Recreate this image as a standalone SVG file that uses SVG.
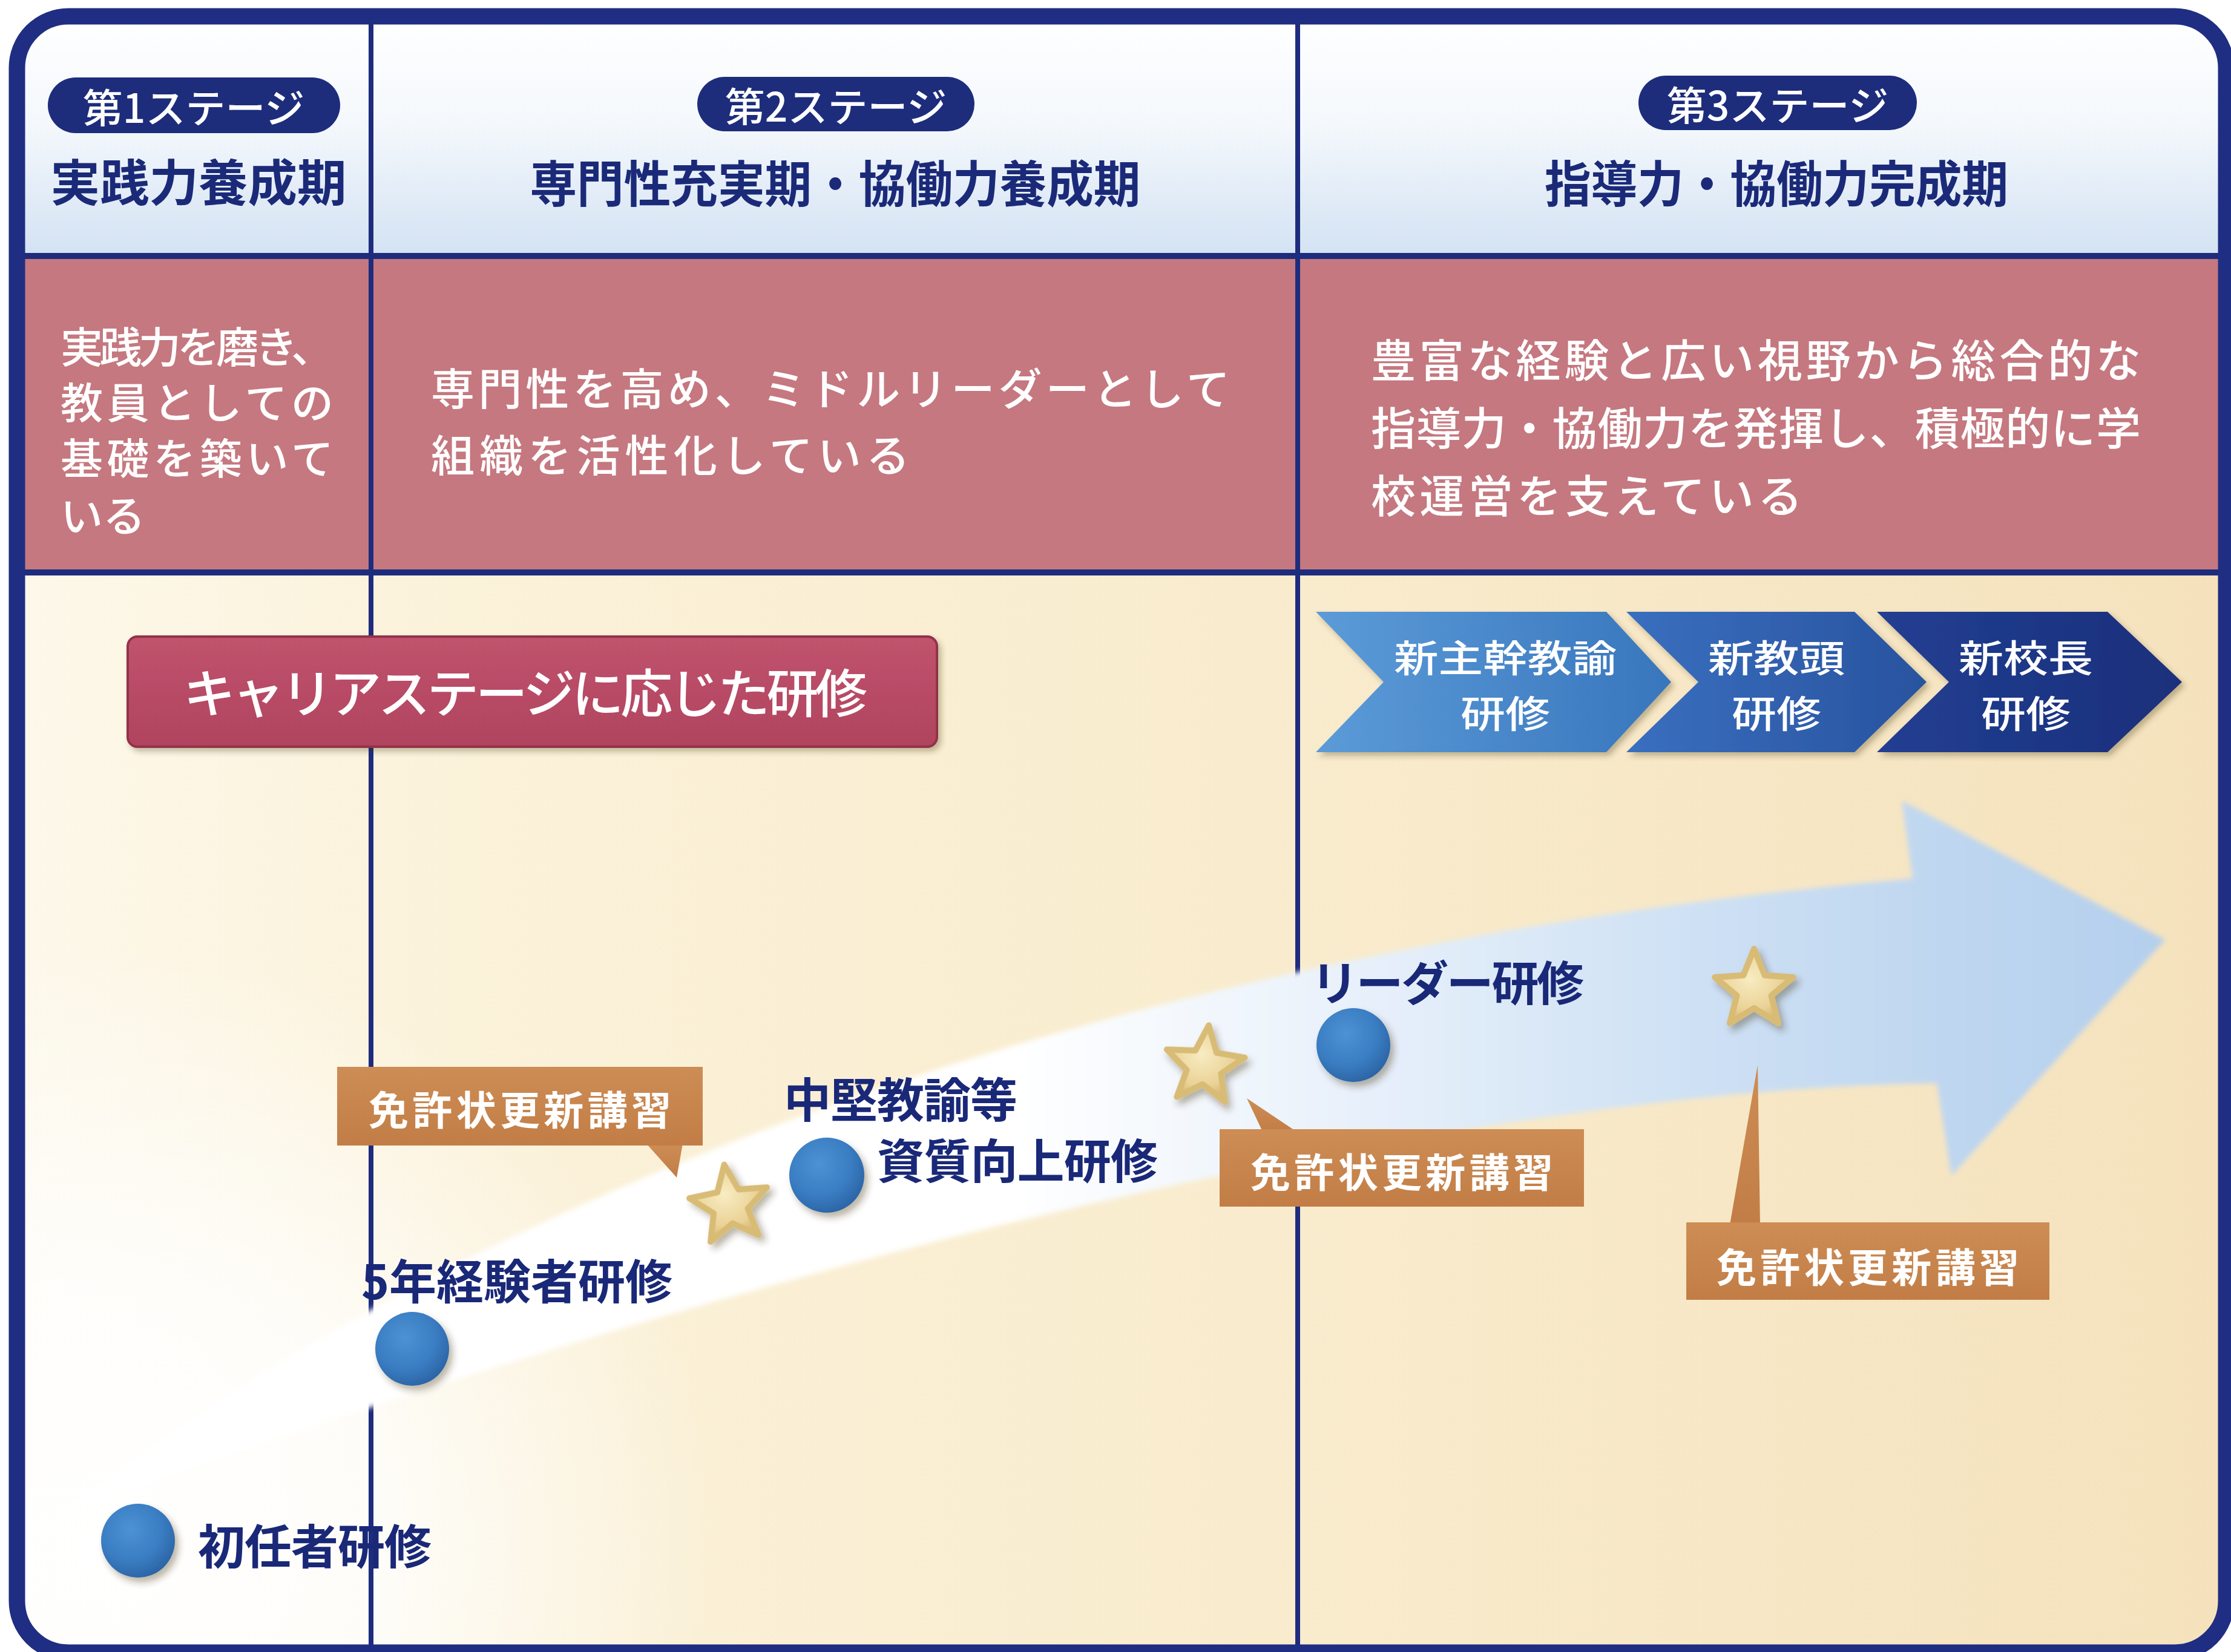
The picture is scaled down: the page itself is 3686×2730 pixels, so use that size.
<svg xmlns="http://www.w3.org/2000/svg" width="3686" height="2730" viewBox="0 0 3686 2730">
<defs>
<style>
text{font-family:'Noto Sans CJK JP','Noto Sans CJK SC',sans-serif;dominant-baseline:central;}
.pill{fill:#1d2d7c;}
.pilltxt{fill:#ffffff;font-size:66px;font-weight:500;text-anchor:middle;}
.title{fill:#1b2a78;font-size:82px;font-weight:700;text-anchor:middle;}
.desc{fill:#ffffff;font-size:70px;font-weight:500;}
.divl{stroke:#1e2c7e;stroke-width:8;fill:none;}
.lbl{fill:#1a2878;font-size:78px;font-weight:700;}
.co{fill:url(#coG);}
.cotxt{fill:#ffffff;font-size:66px;font-weight:700;text-anchor:middle;}
.chtxt{fill:#ffffff;font-size:62px;font-weight:500;text-anchor:middle;}
.ball{fill:url(#ballG);filter:url(#sh);}
.star{fill:url(#starG);stroke:#d8bb74;stroke-width:10;stroke-linejoin:round;filter:url(#sh);}
</style>
<clipPath id="frameClip"><rect x="28" y="27" width="3650" height="2704" rx="85"/></clipPath>
<linearGradient id="hdrG" x1="0" y1="0" x2="0" y2="1">
<stop offset="0" stop-color="#ffffff"/><stop offset="0.45" stop-color="#f4f8fc"/><stop offset="1" stop-color="#d3e2f3"/>
</linearGradient>
<linearGradient id="lowG" x1="0" y1="0" x2="1" y2="0">
<stop offset="0" stop-color="#fdf8ea"/><stop offset="0.2" stop-color="#fbf2da"/><stop offset="0.55" stop-color="#f9ecce"/><stop offset="1" stop-color="#f5e2bd"/>
</linearGradient>
<radialGradient id="glowG" cx="180" cy="2560" r="1000" gradientUnits="userSpaceOnUse">
<stop offset="0" stop-color="#ffffff" stop-opacity="1"/><stop offset="0.45" stop-color="#ffffff" stop-opacity="0.8"/><stop offset="1" stop-color="#ffffff" stop-opacity="0"/>
</radialGradient>
<linearGradient id="bandG" x1="110" y1="0" x2="3577" y2="0" gradientUnits="userSpaceOnUse">
<stop offset="0" stop-color="#ffffff"/><stop offset="0.45" stop-color="#ffffff"/><stop offset="0.6" stop-color="#eaf2fb"/><stop offset="0.75" stop-color="#d2e3f5"/><stop offset="0.9" stop-color="#bed6f0"/><stop offset="1" stop-color="#b4cfed"/>
</linearGradient>
<linearGradient id="coG" x1="0" y1="0" x2="0" y2="1">
<stop offset="0" stop-color="#cd8d55"/><stop offset="1" stop-color="#c27d46"/>
</linearGradient>
<linearGradient id="ch1G" x1="0" y1="0" x2="1" y2="0">
<stop offset="0" stop-color="#5c9bd8"/><stop offset="1" stop-color="#3876bd"/>
</linearGradient>
<linearGradient id="ch2G" x1="0" y1="0" x2="1" y2="0">
<stop offset="0" stop-color="#3a6fbf"/><stop offset="1" stop-color="#28539f"/>
</linearGradient>
<linearGradient id="ch3G" x1="0" y1="0" x2="1" y2="0">
<stop offset="0" stop-color="#223f92"/><stop offset="1" stop-color="#1a2f7b"/>
</linearGradient>
<radialGradient id="ballG" cx="0.4" cy="0.35" r="0.7">
<stop offset="0" stop-color="#4d92d4"/><stop offset="0.6" stop-color="#3a7dc2"/><stop offset="1" stop-color="#2a62a3"/>
</radialGradient>
<radialGradient id="starG" cx="0.45" cy="0.4" r="0.6">
<stop offset="0" stop-color="#f8ecc2"/><stop offset="0.7" stop-color="#ead296"/><stop offset="1" stop-color="#d6b570"/>
</radialGradient>
<linearGradient id="pinkG" x1="0" y1="0" x2="0" y2="1">
<stop offset="0" stop-color="#c0536d"/><stop offset="1" stop-color="#b0435e"/>
</linearGradient>
<filter id="sh" x="-30%" y="-30%" width="160%" height="160%">
<feDropShadow dx="6" dy="8" stdDeviation="6" flood-color="#3a2a10" flood-opacity="0.35"/>
</filter>
<filter id="sh2" x="-10%" y="-20%" width="120%" height="140%">
<feDropShadow dx="5" dy="6" stdDeviation="5" flood-color="#3a2a10" flood-opacity="0.3"/>
</filter>
<filter id="soft" x="-5%" y="-10%" width="110%" height="120%">
<feGaussianBlur stdDeviation="4"/>
</filter>
<path id="starP" d="M0,-68 L17.6,-24.3 L64.7,-21 L28.5,9.3 L40,55 L0,30 L-40,55 L-28.5,9.3 L-64.7,-21 L-17.6,-24.3 Z"/>
</defs>

<rect x="0" y="0" width="3686" height="2730" fill="#ffffff"/>

<g id="backgrounds" clip-path="url(#frameClip)">
<rect x="28" y="27" width="3650" height="396" fill="url(#hdrG)"/>
<rect x="28" y="423" width="3650" height="523" fill="#c5787f"/>
<rect x="28" y="946" width="3650" height="1790" fill="url(#lowG)"/>
<rect x="28" y="946" width="3650" height="1790" fill="url(#glowG)"/>
</g>

<g id="grid">
<line class="divl" x1="613" y1="30" x2="613" y2="2730"/>
<line class="divl" x1="2144" y1="30" x2="2144" y2="2730"/>
<line class="divl" x1="30" y1="423" x2="3670" y2="423" style="stroke-width:10"/>
<line class="divl" x1="30" y1="946" x2="3670" y2="946" style="stroke-width:10"/>
</g>

<g id="stage1-header">
<rect class="pill" x="79" y="128" width="483" height="92" rx="46"/>
<text class="pilltxt" x="320" y="174">第1ステージ</text>
<text class="title" x="328" y="296" textLength="489" lengthAdjust="spacingAndGlyphs">実践力養成期</text>
</g>
<g id="stage2-header">
<rect class="pill" x="1152" y="127" width="458" height="90" rx="45"/>
<text class="pilltxt" x="1381" y="172">第2ステージ</text>
<text class="title" x="1380" y="298" textLength="1009" lengthAdjust="spacingAndGlyphs">専門性充実期・協働力養成期</text>
</g>
<g id="stage3-header">
<rect class="pill" x="2707" y="125" width="460" height="90" rx="45"/>
<text class="pilltxt" x="2937" y="170">第3ステージ</text>
<text class="title" x="2935" y="298" textLength="766" lengthAdjust="spacingAndGlyphs">指導力・協働力完成期</text>
</g>

<g id="stage1-desc">
<text class="desc" x="100" y="569" textLength="451">実践力を磨き、</text>
<text class="desc" x="100" y="661" textLength="451">教員としての</text>
<text class="desc" x="100" y="753" textLength="451">基礎を築いて</text>
<text class="desc" x="100" y="848">いる</text>
</g>
<g id="stage2-desc">
<text class="desc" x="712" y="637" style="font-size:72px" textLength="1320">専門性を高め、ミドルリーダーとして</text>
<text class="desc" x="712" y="747" style="font-size:72px" textLength="791">組織を活性化している</text>
</g>
<g id="stage3-desc">
<text class="desc" x="2265" y="590" style="font-size:74px" textLength="1272">豊富な経験と広い視野から総合的な</text>
<text class="desc" x="2265" y="702" style="font-size:74px" textLength="1272">指導力・協働力を発揮し、積極的に学</text>
<text class="desc" x="2265" y="814" style="font-size:74px" textLength="713">校運営を支えている</text>
</g>

<g id="connectors">
<path id="career-arrow" filter="url(#soft)" fill="url(#bandG)" d="M110,2495 C800,1950 1900,1560 3160,1452 L3142,1323 L3577,1553 L3224,1943 L3200,1790 C2500,1800 1400,2030 110,2500 Z"/>
</g>

<g id="career-stage-training" filter="url(#sh2)">
<rect x="211" y="1052" width="1337" height="182" rx="16" fill="url(#pinkG)" stroke="#93304a" stroke-width="4"/>
<text x="868" y="1140" style="fill:#ffffff;font-size:86px;font-weight:500;text-anchor:middle" textLength="1130">キャリアステージに応じた研修</text>
</g>

<g id="chevron-shinshukan" filter="url(#sh2)">
<polygon fill="url(#ch1G)" points="2174,1011 2654,1011 2761,1127 2654,1243 2174,1243 2286,1127"/>
<text class="chtxt" x="2487" y="1084" textLength="368" lengthAdjust="spacingAndGlyphs">新主幹教諭</text>
<text class="chtxt" x="2487" y="1176" textLength="148" lengthAdjust="spacingAndGlyphs">研修</text>
</g>
<g id="chevron-shinkyoto" filter="url(#sh2)">
<polygon fill="url(#ch2G)" points="2687,1011 3064,1011 3183,1127 3064,1243 2687,1243 2806,1127"/>
<text class="chtxt" x="2935" y="1084" textLength="226" lengthAdjust="spacingAndGlyphs">新教頭</text>
<text class="chtxt" x="2935" y="1176" textLength="148" lengthAdjust="spacingAndGlyphs">研修</text>
</g>
<g id="chevron-shinkocho" filter="url(#sh2)">
<polygon fill="url(#ch3G)" points="3101,1011 3482,1011 3605,1127 3482,1243 3101,1243 3220,1127"/>
<text class="chtxt" x="3347" y="1084" textLength="222" lengthAdjust="spacingAndGlyphs">新校長</text>
<text class="chtxt" x="3347" y="1176" textLength="148" lengthAdjust="spacingAndGlyphs">研修</text>
</g>

<g id="license-renewal-1">
<polygon class="co" points="1068,1890 1128,1890 1118,1946"/>
<rect class="co" x="557" y="1763" width="604" height="130"/>
<text class="cotxt" x="859" y="1830" textLength="500">免許状更新講習</text>
</g>
<g id="license-renewal-2">
<polygon class="co" points="2060,1815 2086,1870 2142,1870"/>
<rect class="co" x="2015" y="1866" width="602" height="128"/>
<text class="cotxt" x="2316" y="1933" textLength="500">免許状更新講習</text>
</g>
<g id="license-renewal-3">
<polygon class="co" points="2904,1760 2908,2024 2858,2024"/>
<rect class="co" x="2786" y="2020" width="600" height="128"/>
<text class="cotxt" x="3086" y="2090" textLength="500">免許状更新講習</text>
</g>

<g id="star-1"><use href="#starP" class="star" transform="translate(1206,1992) rotate(-8)"/></g>
<g id="star-2"><use href="#starP" class="star" transform="translate(1990,1762) rotate(6)"/></g>
<g id="star-3"><use href="#starP" class="star" transform="translate(2898,1636) rotate(0)"/></g>

<g id="shoninsha">
<circle class="ball" cx="228" cy="2546" r="61"/>
<text class="lbl" x="327" y="2551" textLength="386">初任者研修</text>
</g>
<g id="gonen">
<circle class="ball" cx="681" cy="2229" r="61"/>
<text class="lbl" x="597" y="2113" textLength="514">5年経験者研修</text>
</g>
<g id="chuken">
<circle class="ball" cx="1366" cy="1942" r="62"/>
<text class="lbl" x="1295" y="1813" textLength="386">中堅教諭等</text>
<text class="lbl" x="1449" y="1914" textLength="464">資質向上研修</text>
</g>
<g id="leader">
<circle class="ball" cx="2236" cy="1727" r="61"/>
<text class="lbl" x="2166" y="1620" textLength="451">リーダー研修</text>
</g>

<g id="frame">
<rect x="28" y="27" width="3650" height="2704" rx="85" fill="none" stroke="#1f2e82" stroke-width="27"/>
</g>
</svg>
